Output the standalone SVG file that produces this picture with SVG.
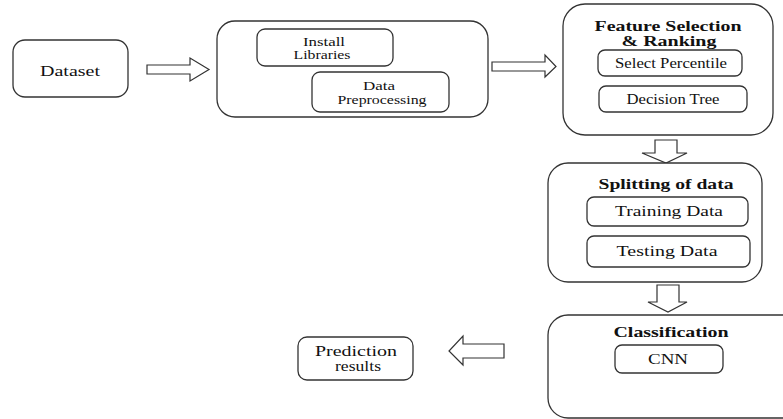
<svg xmlns="http://www.w3.org/2000/svg" width="783" height="419" viewBox="0 0 783 419">
<style>
.box{fill:#fff;stroke:#333;stroke-width:1.3}
.arr{fill:#fff;stroke:#333;stroke-width:1.2;stroke-linejoin:miter}
text{font-family:"Liberation Serif","Times New Roman",serif;fill:#111;text-anchor:middle}
.t{font-size:14px}
.s{font-size:11.5px}
.b{font-size:14px;font-weight:bold}
</style>
<rect width="783" height="419" fill="#fff"/>
<g id="connectors">
<polygon class="arr" points="147,65 190,65 190,58 209,69.5 190,81 190,74 147,74"/>
<polygon class="arr" points="492,62 545,62 545,55 556,66.5 545,77 545,71 492,71"/>
<polygon class="arr" points="655,140 677,140 677,153 687,153 666,163 642,153 655,153"/>
<polygon class="arr" points="657,285 679,285 679,302 687,302 668,312 648,302 657,302"/>
<polygon class="arr" points="504,344 463,344 463,336 449,351 463,365 463,358 504,358"/>
</g>
<g id="dataset">
<rect class="box" x="13" y="40" width="115" height="57" rx="12"/>
<text class="t" x="70" y="76" textLength="60" lengthAdjust="spacingAndGlyphs">Dataset</text>
</g>
<g id="preprocess">
<rect class="box" x="217" y="21" width="271" height="96" rx="18"/>
</g>
<g id="install">
<rect class="box" x="257" y="29" width="136" height="37" rx="8"/>
<text class="s" x="324" y="46" textLength="42" lengthAdjust="spacingAndGlyphs">Install</text>
<text class="s" x="322" y="59" textLength="57" lengthAdjust="spacingAndGlyphs">Libraries</text>
</g>
<g id="datapre">
<rect class="box" x="312" y="72" width="137" height="40" rx="8"/>
<text class="s" x="379" y="90" textLength="32" lengthAdjust="spacingAndGlyphs">Data</text>
<text class="s" x="382" y="104" textLength="89" lengthAdjust="spacingAndGlyphs">Preprocessing</text>
</g>
<g id="feature">
<rect class="box" x="563" y="4" width="210" height="131" rx="22"/>
<text class="b" x="668" y="31" textLength="147" lengthAdjust="spacingAndGlyphs">Feature Selection</text>
<text class="b" x="669" y="46" textLength="95" lengthAdjust="spacingAndGlyphs">&amp; Ranking</text>
</g>
<g id="selectpct">
<rect class="box" x="598" y="50" width="144" height="26" rx="7"/>
<text class="t" x="671" y="68" textLength="112" lengthAdjust="spacingAndGlyphs">Select Percentile</text>
</g>
<g id="dtree">
<rect class="box" x="599" y="86" width="148" height="26" rx="7"/>
<text class="t" x="673" y="104" textLength="93" lengthAdjust="spacingAndGlyphs">Decision Tree</text>
</g>
<g id="splitting">
<rect class="box" x="548" y="163" width="214" height="119" rx="20"/>
<text class="b" x="666" y="189" textLength="135" lengthAdjust="spacingAndGlyphs">Splitting of data</text>
</g>
<g id="training">
<rect class="box" x="587" y="197" width="161" height="29" rx="7"/>
<text class="t" x="669" y="216" textLength="108" lengthAdjust="spacingAndGlyphs">Training Data</text>
</g>
<g id="testing">
<rect class="box" x="587" y="236" width="163" height="31" rx="7"/>
<text class="t" x="667" y="256" textLength="101" lengthAdjust="spacingAndGlyphs">Testing Data</text>
</g>
<g id="classification">
<rect class="box" x="548" y="315" width="260" height="103" rx="20"/>
<text class="b" x="671" y="337" textLength="115" lengthAdjust="spacingAndGlyphs">Classification</text>
</g>
<g id="cnn">
<rect class="box" x="615" y="345" width="108" height="28" rx="7"/>
<text class="t" x="668" y="364" textLength="40" lengthAdjust="spacingAndGlyphs">CNN</text>
</g>
<g id="prediction">
<rect class="box" x="298" y="337" width="115" height="43" rx="9"/>
<text class="t" x="356" y="356" textLength="82" lengthAdjust="spacingAndGlyphs">Prediction</text>
<text class="t" x="358" y="371" textLength="46" lengthAdjust="spacingAndGlyphs">results</text>
</g>
</svg>
